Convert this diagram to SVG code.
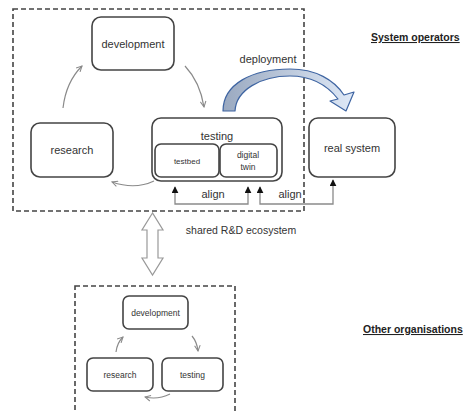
<svg xmlns="http://www.w3.org/2000/svg" width="470" height="411" viewBox="0 0 470 411">
<style>
.box{fill:#fff;stroke:#444;stroke-width:1.6}
.dash{fill:none;stroke:#444;stroke-width:1.6;stroke-dasharray:5 3}
.t{font-family:"Liberation Sans",Arial,sans-serif;fill:#333;text-anchor:middle}
.cyc{fill:none;stroke:#8a8a8a;stroke-width:1.2}
.aln{fill:none;stroke:#8a8a8a;stroke-width:1.3}
.hdr{font-family:"Liberation Sans",Arial,sans-serif;font-weight:bold;fill:#222;font-size:10.5px;text-decoration:underline}
</style>
<defs>
<marker id="chev" viewBox="0 0 10 10" refX="9" refY="5" markerWidth="7" markerHeight="7" markerUnits="userSpaceOnUse" orient="auto">
<path d="M1,1 L9,5 L1,9" fill="none" stroke="#8a8a8a" stroke-width="1.5"/>
</marker>
<marker id="tri" viewBox="0 0 10 10" refX="9" refY="5" markerWidth="7" markerHeight="7" markerUnits="userSpaceOnUse" orient="auto-start-reverse">
<path d="M0,0 L10,5 L0,10 Z" fill="#111"/>
</marker>
<linearGradient id="dg" x1="0" y1="0" x2="1" y2="0">
<stop offset="0" stop-color="#9aa9c0"/>
<stop offset="1" stop-color="#dfe9f7"/>
</linearGradient>
</defs>

<rect class="dash" x="13" y="9" width="291" height="202"/>
<rect class="dash" x="75" y="286" width="160" height="130"/>

<g id="connectors">
<path class="cyc" d="M185,66 Q200,82 204,107" marker-end="url(#chev)"/>
<path class="cyc" d="M63,108 Q66,82 82,66" marker-end="url(#chev)"/>
<path class="cyc" d="M154,181 Q135,190 112,182" marker-end="url(#chev)"/>
<path class="aln" d="M175,187 V204 H248 V187" marker-start="url(#tri)" marker-end="url(#tri)"/>
<path class="aln" d="M260,187 V204 H333 V180" marker-start="url(#tri)" marker-end="url(#tri)"/>
<path id="deploy" d="M223,111 C223,84 252,69 290,69 C316,69 334,80 344,95 L354,92 L346,111 L330,101 L338,99 C327,85 311,76 290,76 C261,76 236,90 235,111 Z" fill="url(#dg)" stroke="#3f65a2" stroke-width="1.2" stroke-linejoin="round"/>
<path d="M152.5,213 L142,230 L147,230 L147,258 L142,258 L152.5,275 L163,258 L158,258 L158,230 L163,230 Z" fill="#fff" stroke="#999" stroke-width="1.2"/>
<path class="cyc" d="M116,352 Q117,343 123,337" marker-end="url(#chev)"/>
<path class="cyc" d="M192,336 Q197,342 198,351" marker-end="url(#chev)"/>
<path class="cyc" d="M170,394 Q158,400 145,397" marker-end="url(#chev)"/>
</g>

<g id="development"><rect class="box" x="92" y="17" width="82" height="53" rx="9"/><text class="t" x="133" y="48" font-size="11">development</text></g>
<g id="research"><rect class="box" x="31" y="123" width="82" height="54" rx="9"/><text class="t" x="72" y="154" font-size="11">research</text></g>
<g id="testing"><rect class="box" x="152" y="118" width="130" height="63" rx="9"/><text class="t" x="217" y="140" font-size="11">testing</text>
<g id="testbed"><rect class="box" x="155" y="144" width="64" height="33" rx="6"/><text class="t" x="187" y="164" font-size="8">testbed</text></g>
<g id="digital-twin"><rect class="box" x="220" y="144" width="57" height="33" rx="6"/><text class="t" x="248" y="158" font-size="8.5">digital</text><text class="t" x="248" y="170" font-size="8.5">twin</text></g>
</g>
<g id="real-system"><rect class="box" x="309" y="118" width="86" height="59" rx="9"/><text class="t" x="352" y="152" font-size="11">real system</text></g>

<text class="t" x="268" y="63" font-size="11">deployment</text>
<text class="t" x="213" y="198" font-size="11">align</text>
<text class="t" x="290" y="198" font-size="11">align</text>
<text class="t" x="241" y="234" font-size="10.5">shared R&amp;D ecosystem</text>
<text class="hdr" x="371" y="41">System operators</text>
<text class="hdr" x="363" y="333">Other organisations</text>

<g id="development-2"><rect class="box" x="123" y="296" width="65" height="33" rx="6"/><text class="t" x="155.5" y="316" font-size="8.5">development</text></g>
<g id="research-2"><rect class="box" x="87" y="358" width="66" height="33" rx="6"/><text class="t" x="120" y="378" font-size="8.5">research</text></g>
<g id="testing-2"><rect class="box" x="162" y="358" width="61" height="33" rx="6"/><text class="t" x="192.5" y="378" font-size="8.5">testing</text></g>
</svg>
